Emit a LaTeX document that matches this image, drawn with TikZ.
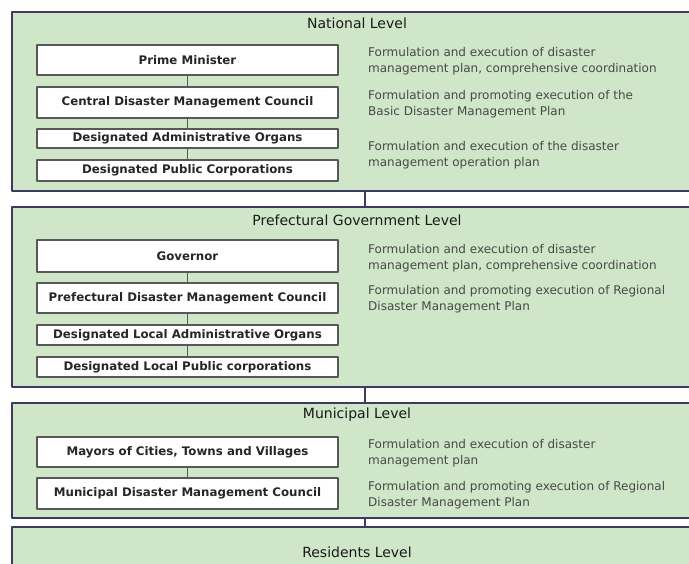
\documentclass[tikz,border=0pt]{standalone}
\usepackage{fontspec}
\setmainfont{DejaVu Sans}
\usepackage{xcolor}
\definecolor{levelgreen}{RGB}{208,230,200}
\definecolor{levelnavy}{RGB}{58,58,98}
\definecolor{postgray}{RGB}{88,88,88}
\definecolor{dutytext}{RGB}{72,72,72}

\begin{document}
\begin{tikzpicture}[line cap=round,line join=round,x=1pt,y=-1pt,
    level/.style={draw=levelnavy,fill=levelgreen,line width=2pt,inner sep=0pt,minimum width=688pt},
    levelhead/.style={font=\fontsize{14}{16}\selectfont,text=black!90},
    post/.style={draw=postgray,fill=white,line width=1.2pt,inner sep=0pt,minimum width=301pt,font=\bfseries\fontsize{11.8}{14}\selectfont,text=black!85},
    duty/.style={anchor=north west,inner sep=0pt,align=left,font=\fontsize{12}{15.5}\selectfont,text=dutytext},
    link/.style={draw=postgray,line width=0.8pt},
    spine/.style={draw=levelnavy,line width=2pt}]
                \useasboundingbox (0,0) rectangle (689,563);
                \clip (0,0) rectangle (689,563);
                \fill [white] (0,0) rectangle (689,563);
                \coordinate (axis) at (365,0);
                % level frames
                \node [level,minimum height=179pt] (nat) at (356,101.5) {};
                \node [level,minimum height=180pt] (pref) at (356,297) {};
                \node [level,minimum height=115pt] (muni) at (356,460.5) {};
                \node [level,minimum height=46pt] (res) at (356,550) {};
                \draw [spine] (nat.south -| axis) -- (pref.north -| axis);
                \draw [spine] (pref.south -| axis) -- (muni.north -| axis);
                \draw [spine] (muni.south -| axis) -- (res.north -| axis);
                \node [levelhead] (nathead) at (357,23) {National Level};
                \node [levelhead] (prefhead) at (357,220) {Prefectural Government Level};
                \node [levelhead] (munihead) at (357,415) {Municipal Level};
                \node [levelhead] (reshead) at (357,552) {Residents Level};
                % national level
                \node [post,minimum height=30pt] (pm) at (187.5,60) {Prime Minister};
                \node [post,minimum height=31pt] (cdmc) at (187.5,102.5) {Central Disaster Management Council};
                \node [post,minimum height=19pt] (dao) at (187.5,138.5) {Designated Administrative Organs};
                \node [post,minimum height=21pt] (dpc) at (187.5,170.5) {Designated Public Corporations};
                \draw [link] (pm) -- (cdmc);
                \draw [link] (cdmc) -- (dao);
                \draw [link] (dao) -- (dpc);
                \node [duty] (pmduty) at (368,47.5) {Formulation and execution of disaster\\management plan, comprehensive coordination};
                \node [duty] (cdmcduty) at (368,90.5) {Formulation and promoting execution of the\\Basic Disaster Management Plan};
                \node [duty] (daoduty) at (368,141.5) {Formulation and execution of the disaster\\management operation plan};
                % prefectural level
                \node [post,minimum height=32pt] (gov) at (187.5,256) {Governor};
                \node [post,minimum height=30pt] (pdmc) at (187.5,298) {Prefectural Disaster Management Council};
                \node [post,minimum height=20pt] (dlao) at (187.5,335) {Designated Local Administrative Organs};
                \node [post,minimum height=20pt] (dlpc) at (187.5,367) {Designated Local Public corporations};
                \draw [link] (gov) -- (pdmc);
                \draw [link] (pdmc) -- (dlao);
                \draw [link] (dlao) -- (dlpc);
                \node [duty] (govduty) at (368,244.5) {Formulation and execution of disaster\\management plan, comprehensive coordination};
                \node [duty] (pdmcduty) at (368,285.5) {Formulation and promoting execution of Regional\\Disaster Management Plan};
                % municipal level
                \node [post,minimum height=30pt] (mayor) at (187.5,452) {Mayors of Cities, Towns and Villages};
                \node [post,minimum height=31pt] (mdmc) at (187.5,493.5) {Municipal Disaster Management Council};
                \draw [link] (mayor) -- (mdmc);
                \node [duty] (mayorduty) at (368,439.5) {Formulation and execution of disaster\\management plan};
                \node [duty] (mdmcduty) at (368,481.5) {Formulation and promoting execution of Regional\\Disaster Management Plan};
\end{tikzpicture}
\end{document}
